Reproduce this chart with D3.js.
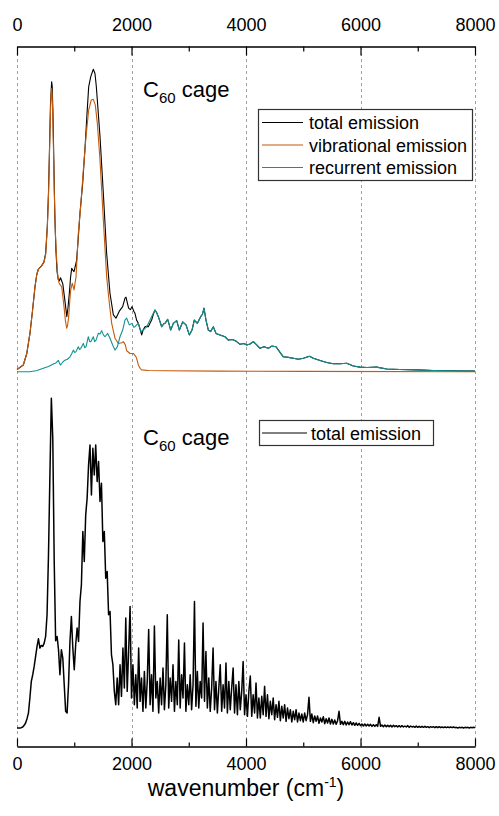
<!DOCTYPE html>
<html>
<head>
<meta charset="utf-8">
<script src="https://cdn.jsdelivr.net/npm/d3@7"></script>
<style>
body{margin:0;background:#fff;}
svg{display:block;font-family:"Liberation Sans",Arial,sans-serif;}
</style>
</head>
<body>
<svg width="499" height="816"></svg>
<script>
//tick values shared by the top and bottom axis
var majorTicks = [0, 2000, 4000, 6000, 8000];
var minorTicks = [1000, 3000, 5000, 7000];

//top panel, [wavenumber, intensity], intensity scaled to the total peak
var totalLow = [[0,0.008],[110,0.023],[170,0.06],[227,0.128],[270,0.2],[314,0.28],[345,0.32],[373,0.338],[431,0.35],[470,0.362],[500,0.39],[530,0.48],[550,0.59],[565,0.71],[585,0.88],[605,0.955],[615,0.94],[628,0.85],[645,0.68],[660,0.52],[680,0.40],[700,0.33],[720,0.305],[740,0.30],[760,0.31],[780,0.30],[800,0.29],[840,0.23],[870,0.182],[890,0.21],[914,0.259],[935,0.31],[955,0.341],[975,0.335],[996,0.33],[1042,0.368],[1070,0.44],[1100,0.522],[1147,0.62],[1193,0.752],[1220,0.84],[1252,0.938],[1287,0.971],[1333,0.996],[1362,0.982],[1385,0.94],[1403,0.895],[1450,0.774],[1508,0.588],[1566,0.39],[1624,0.259],[1683,0.188],[1729,0.177],[1787,0.20],[1846,0.215],[1886,0.243],[1904,0.246],[1930,0.225],[1950,0.21],[1980,0.205],[2009,0.215],[2040,0.2],[2061,0.193],[2090,0.17],[2120,0.16],[2150,0.14],[2178,0.122],[2207,0.14],[2236,0.149],[2265,0.15],[2294,0.149],[2323,0.16],[2352,0.171],[2381,0.19]];

var vibrational = [[0,0.008],[110,0.023],[170,0.06],[227,0.128],[270,0.2],[314,0.28],[345,0.32],[373,0.338],[431,0.349],[470,0.36],[500,0.385],[530,0.478],[550,0.58],[565,0.70],[585,0.86],[600,0.933],[612,0.92],[623,0.862],[640,0.70],[652,0.589],[670,0.46],[693,0.368],[715,0.31],[734,0.293],[760,0.285],[780,0.281],[800,0.25],[821,0.215],[845,0.17],[868,0.144],[885,0.155],[903,0.182],[920,0.23],[938,0.27],[966,0.292],[996,0.27],[1031,0.313],[1050,0.38],[1071,0.456],[1112,0.544],[1159,0.664],[1205,0.774],[1252,0.862],[1298,0.895],[1333,0.897],[1368,0.878],[1403,0.818],[1450,0.697],[1508,0.50],[1566,0.313],[1613,0.226],[1654,0.16],[1712,0.111],[1770,0.094],[1828,0.096],[1858,0.1],[1890,0.09],[1916,0.07],[1974,0.061],[2032,0.061],[2079,0.05],[2100,0.038],[2120,0.023],[2150,0.012],[2178,0.007],[2300,0.005],[2600,0.004],[3500,0.003],[5000,0.002],[8000,0.001]];

var recurrent = [[0,0.001],[227,0.001],[350,0.005],[460,0.012],[550,0.018],[635,0.026],[680,0.03],[722,0.038],[740,0.03],[760,0.023],[800,0.033],[838,0.039],[880,0.042],[926,0.05],[955,0.06],[984,0.072],[1008,0.064],[1031,0.067],[1071,0.083],[1092,0.074],[1112,0.077],[1159,0.094],[1182,0.08],[1205,0.083],[1246,0.116],[1270,0.1],[1292,0.1],[1333,0.116],[1355,0.1],[1380,0.105],[1420,0.127],[1450,0.125],[1479,0.136],[1510,0.122],[1537,0.116],[1584,0.127],[1624,0.111],[1671,0.089],[1712,0.072],[1752,0.083],[1799,0.116],[1846,0.138],[1886,0.171],[1916,0.177],[1962,0.155],[2009,0.16],[2040,0.147],[2061,0.149],[2090,0.155],[2120,0.16],[2166,0.133],[2207,0.138],[2265,0.149],[2323,0.171],[2381,0.193],[2410,0.204],[2440,0.195],[2469,0.182],[2527,0.149],[2560,0.158],[2585,0.16],[2632,0.173],[2660,0.155],[2684,0.138],[2731,0.16],[2789,0.169],[2836,0.138],[2894,0.165],[2952,0.155],[3010,0.122],[3057,0.138],[3097,0.171],[3150,0.16],[3208,0.182],[3240,0.19],[3266,0.21],[3301,0.171],[3342,0.138],[3383,0.133],[3429,0.149],[3476,0.127],[3546,0.122],[3633,0.116],[3692,0.105],[3767,0.107],[3837,0.1],[3895,0.091],[3965,0.094],[4012,0.089],[4070,0.092],[4129,0.1],[4187,0.089],[4245,0.078],[4315,0.083],[4391,0.078],[4449,0.085],[4525,0.083],[4566,0.072],[4652,0.05],[4740,0.048],[4827,0.045],[4914,0.042],[5002,0.045],[5107,0.052],[5177,0.045],[5293,0.038],[5410,0.031],[5526,0.027],[5643,0.027],[5759,0.029],[5876,0.02],[5992,0.016],[6109,0.015],[6283,0.016],[6458,0.01],[6691,0.008],[6982,0.007],[7273,0.005],[7564,0.004],[8000,0.003]];

//above ~2400 the total is the recurrent curve
var totalTop = totalLow.concat(recurrent.filter(function(d){ return d[0] > 2381; }));

//bottom panel, total emission every 25 cm-1 from 0 to 8000
var bottomStep = 25;
var totalBottom = [
0.000,0.000,0.000,0.001,0.003,0.008,0.015,0.028,0.045,0.090,
0.140,0.160,0.185,0.215,0.245,0.268,0.240,0.248,0.245,0.255,
0.275,0.340,0.520,0.760,0.990,0.870,0.500,0.262,0.275,0.235,
0.160,0.235,0.210,0.130,0.050,0.045,0.130,0.260,0.335,0.240,
0.175,0.250,0.300,0.260,0.380,0.430,0.590,0.500,0.640,0.690,
0.790,0.850,0.700,0.840,0.760,0.850,0.740,0.800,0.680,0.735,
0.560,0.590,0.450,0.470,0.340,0.350,0.220,0.190,0.110,0.070,
0.150,0.070,0.190,0.095,0.240,0.120,0.330,0.110,0.230,0.365,
0.090,0.190,0.070,0.160,0.060,0.240,0.080,0.150,0.050,0.170,
0.060,0.140,0.296,0.070,0.160,0.050,0.306,0.090,0.140,0.045,
0.150,0.070,0.180,0.055,0.130,0.340,0.060,0.150,0.080,0.190,
0.050,0.140,0.070,0.264,0.060,0.160,0.090,0.255,0.050,0.130,
0.070,0.160,0.055,0.130,0.380,0.065,0.170,0.060,0.140,0.090,
0.315,0.080,0.230,0.060,0.150,0.050,0.120,0.240,0.055,0.140,
0.045,0.120,0.190,0.050,0.130,0.060,0.195,0.045,0.140,0.055,
0.120,0.180,0.045,0.130,0.040,0.140,0.055,0.110,0.200,0.040,
0.100,0.035,0.110,0.156,0.035,0.100,0.045,0.135,0.030,0.090,
0.030,0.095,0.040,0.125,0.035,0.100,0.028,0.080,0.040,0.090,
0.025,0.070,0.032,0.080,0.022,0.065,0.030,0.070,0.020,0.060,
0.028,0.055,0.018,0.050,0.025,0.055,0.018,0.045,0.022,0.042,
0.018,0.045,0.022,0.040,0.092,0.020,0.042,0.016,0.036,0.020,
0.036,0.014,0.030,0.018,0.034,0.013,0.028,0.015,0.030,0.012,
0.026,0.012,0.024,0.011,0.022,0.050,0.011,0.020,0.010,0.020,
0.009,0.018,0.010,0.019,0.009,0.016,0.008,0.015,0.008,0.014,
0.007,0.012,0.006,0.012,0.006,0.011,0.006,0.011,0.005,0.010,
0.005,0.010,0.005,0.032,0.005,0.009,0.004,0.009,0.004,0.008,
0.004,0.008,0.003,0.008,0.004,0.007,0.003,0.007,0.003,0.007,
0.003,0.006,0.003,0.007,0.002,0.006,0.003,0.005,0.002,0.006,
0.002,0.005,0.002,0.005,0.002,0.005,0.002,0.004,0.001,0.004,
0.002,0.004,0.001,0.004,0.001,0.004,0.001,0.003,0.001,0.003,
0.001,0.003,0.001,0.003,0.001,0.003,0.001,0.002,0.000,0.002,
0.001,0.002,0.000,0.002,0.001,0.002,0.000,0.002,0.001,0.002,
0.001];

//legend entries
var topLegend = ["total emission", "vibrational emission", "recurrent emission"];
var bottomLegend = ["total emission"];

var colorTotal = "#000000";
var colorVib = "#c45a0c";
var colorRec = "#13918f";

var svg = d3.select("svg");

var x = d3.scaleLinear().domain([0, 8000]).range([17, 475]);
var yTop = d3.scaleLinear().domain([0, 1]).range([372, 68]);
var yBot = d3.scaleLinear().domain([0, 1]).range([728, 395]);

//dashed grid lines at the major ticks
svg.append("g")
	.selectAll("line")
	.data(majorTicks)
	.join("line")
	.attr("x1", function(d){ return Math.round(x(d)) + 0.5; })
	.attr("x2", function(d){ return Math.round(x(d)) + 0.5; })
	.attr("y1", 47)
	.attr("y2", 746)
	.style("stroke", "#a0a0a0")
	.style("stroke-width", 1)
	.style("stroke-dasharray", "3,3");

//top axis, ticks pointing into the plot
var gTop = svg.append("g").attr("transform", "translate(0,46.5)");
gTop.call(d3.axisTop(x).tickValues(majorTicks).tickSizeInner(-9).tickSizeOuter(0).tickPadding(16).tickFormat(d3.format("d")));
gTop.append("g").call(d3.axisTop(x).tickValues(minorTicks).tickSizeInner(-5).tickSizeOuter(0).tickFormat(""));

//bottom axis
var gBot = svg.append("g").attr("transform", "translate(0,746.5)");
gBot.call(d3.axisBottom(x).tickValues(majorTicks).tickSizeInner(-8).tickSizeOuter(0).tickPadding(11).tickFormat(d3.format("d")));
gBot.append("g").call(d3.axisBottom(x).tickValues(minorTicks).tickSizeInner(-4).tickSizeOuter(0).tickFormat(""));

svg.selectAll(".domain, .tick line").style("stroke", "#000").style("stroke-width", 1.2);
svg.selectAll(".tick text").style("font-size", "18px").style("font-family", "'Liberation Sans', Arial, sans-serif").style("fill", "#000");

//axis title with superscript
var title = svg.append("text")
	.attr("x", 246)
	.attr("y", 796)
	.attr("text-anchor", "middle")
	.style("font-size", "23px");
title.append("tspan").text("wavenumber (cm");
title.append("tspan").attr("dy", -9).style("font-size", "14px").text("-1");
title.append("tspan").attr("dy", 9).text(")");

//lines of the top panel
var lineTop = d3.line().x(function(d){ return x(d[0]); }).y(function(d){ return yTop(d[1]); });
var topSeries = [[totalTop, colorTotal], [vibrational, colorVib], [recurrent, colorRec]];
topSeries.forEach(function(s){
	svg.append("path")
		.datum(s[0])
		.attr("d", lineTop)
		.style("fill", "none")
		.style("stroke", s[1])
		.style("stroke-width", 1.1)
		.style("stroke-linejoin", "round");
});

//line of the bottom panel
var lineBot = d3.line().x(function(d, i){ return x(i * bottomStep); }).y(function(d){ return yBot(d); });
svg.append("path")
	.datum(totalBottom)
	.attr("d", lineBot)
	.style("fill", "none")
	.style("stroke", colorTotal)
	.style("stroke-width", 1.5)
	.style("stroke-linejoin", "round");

//C60 cage labels
function cageLabel(y){
	var t = svg.append("text").attr("x", 143).attr("y", y).style("font-size", "22px");
	t.append("tspan").text("C");
	t.append("tspan").attr("dy", 6).style("font-size", "15px").text("60");
	t.append("tspan").attr("dy", -6).text(" cage");
}
cageLabel(97);
cageLabel(445);

//legend of the top panel
var legTop = svg.append("g");
legTop.append("rect")
	.attr("x", 258.5).attr("y", 109.5).attr("width", 214).attr("height", 71)
	.style("fill", "#fff").style("stroke", "#333").style("stroke-width", 1.2);
var topColors = [colorTotal, colorVib, colorRec];
legTop.selectAll("line")
	.data(topLegend)
	.join("line")
	.attr("x1", 262).attr("x2", 303)
	.attr("y1", function(d, i){ return 122.5 + i * 22.5; })
	.attr("y2", function(d, i){ return 122.5 + i * 22.5; })
	.style("stroke", function(d, i){ return topColors[i]; })
	.style("stroke-width", 1.1);
legTop.selectAll("text")
	.data(topLegend)
	.join("text")
	.attr("x", 309)
	.attr("y", function(d, i){ return 129 + i * 22.5; })
	.style("font-size", "18px")
	.text(function(d){ return d; });

//legend of the bottom panel
var legBot = svg.append("g");
legBot.append("rect")
	.attr("x", 259.5).attr("y", 420.5).attr("width", 174).attr("height", 25)
	.style("fill", "#fff").style("stroke", "#333").style("stroke-width", 1.2);
legBot.append("line")
	.attr("x1", 262).attr("x2", 307).attr("y1", 433).attr("y2", 433)
	.style("stroke", colorTotal).style("stroke-width", 1.1);
legBot.append("text")
	.attr("x", 311).attr("y", 440)
	.style("font-size", "18px")
	.text(bottomLegend[0]);
</script>
</body>
</html>
